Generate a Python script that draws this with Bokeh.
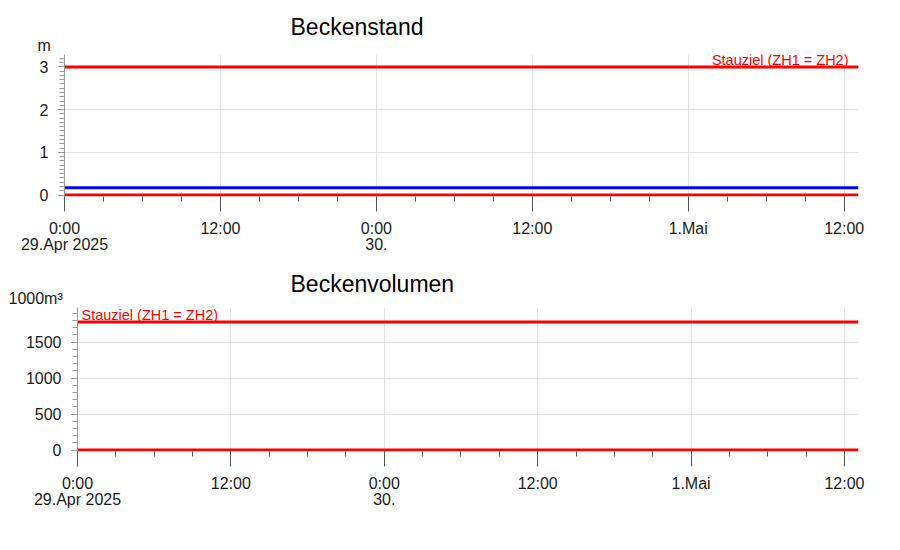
from datetime import datetime, timedelta
from bokeh.plotting import figure
from bokeh.layouts import column, row
from bokeh.models import Range1d, FixedTicker, Label, Title
from bokeh.embed import file_html
from bokeh.resources import INLINE

FONT = "Liberation Sans"
EPOCH = datetime(1970, 1, 1)

# ---- shared time axis ----
t_start = datetime(2025, 4, 29, 0, 0)
t_end = datetime(2025, 5, 1, 13, 6)
x_tick_times = [datetime(2025, 4, 29, 0), datetime(2025, 4, 29, 12),
                datetime(2025, 4, 30, 0), datetime(2025, 4, 30, 12),
                datetime(2025, 5, 1, 0), datetime(2025, 5, 1, 12)]
x_tick_labels = ["0:00\n29.Apr 2025", "12:00", "0:00\n30.", "12:00", "1.Mai", "12:00"]
x_minor_step_h = 3

# ---- Beckenstand (m) ----
stand_times = [t_start, t_end]
stand_values = [0.17, 0.17]
stand_stauziel = [3.0, 3.0]
stand_sohle = [0.0, 0.0]
stand_yticks = [0, 1, 2, 3]
stand_yrange = (-0.035, 3.29)
stand_minor_step = 0.1

# ---- Beckenvolumen (1000 m³) ----
vol_times = [t_start, t_end]
vol_values = [0, 0]
vol_stauziel = [1780, 1780]
vol_yticks = [0, 500, 1000, 1500]
vol_yrange = (-20, 1980)
vol_minor_step = 100

stau_label = "Stauziel (ZH1 = ZH2)"


def ms(dt):
    return int((dt - EPOCH).total_seconds() * 1000)


def minor_list(lo, hi, step):
    out = []
    v = lo
    while v <= hi + 1e-9:
        out.append(round(v, 6))
        v += step
    return out


major_ms = [ms(t) for t in x_tick_times]
minor_ms = []
t = t_start
while t <= t_end:
    minor_ms.append(ms(t))
    t += timedelta(hours=x_minor_step_h)


def make_fig(title, title_offset, title_standoff, unit, unit_offset, unit_standoff,
             yrange, yticks, ystep, height, b_left, b_top, b_bottom):
    p = figure(width=884, height=height, x_axis_type="datetime",
               output_backend="svg", toolbar_location=None,
               x_range=Range1d(t_start, t_end), y_range=Range1d(*yrange),
               min_border_left=b_left, min_border_right=26,
               min_border_top=b_top, min_border_bottom=b_bottom)
    p.outline_line_color = None

    # unit label (closest to the frame)
    p.add_layout(Title(text=unit, align="left", offset=unit_offset,
                       text_font=FONT, text_font_size="16px",
                       text_font_style="normal", text_color="#1a1a1a",
                       standoff=unit_standoff), "above")

    p.title.text = title
    p.title.align = "left"
    p.title.offset = title_offset
    p.title.text_font = FONT
    p.title.text_font_size = "23px"
    p.title.text_font_style = "normal"
    p.title.text_color = "black"
    p.title.standoff = title_standoff

    # x axis
    xa = p.xaxis[0]
    xa.ticker = FixedTicker(ticks=major_ms, minor_ticks=minor_ms)
    xa.major_label_overrides = {m: lab for m, lab in zip(major_ms, x_tick_labels)}
    xa.axis_line_color = None
    xa.major_tick_line_color = "#555555"
    xa.minor_tick_line_color = "#555555"
    xa.major_tick_out = 15
    xa.major_tick_in = 0
    xa.minor_tick_out = 5
    xa.minor_tick_in = 0
    xa.major_label_standoff = 8
    xa.major_label_text_font = FONT
    xa.major_label_text_font_size = "16px"
    xa.major_label_text_line_height = 0.95
    xa.major_label_text_color = "#1a1a1a"

    # y axis
    ya = p.yaxis[0]
    ya.ticker = FixedTicker(ticks=yticks, minor_ticks=minor_list(0, yrange[1], ystep))
    ya.axis_line_color = "#999999"
    ya.major_tick_line_color = "#555555"
    ya.minor_tick_line_color = "#9a9a9a"
    ya.major_tick_out = 6
    ya.major_tick_in = 0
    ya.minor_tick_out = 5
    ya.minor_tick_in = 0
    ya.major_label_standoff = 10
    ya.major_label_text_font = FONT
    ya.major_label_text_font_size = "16px"
    ya.major_label_text_color = "#1a1a1a"

    p.xgrid.ticker = FixedTicker(ticks=major_ms)
    p.ygrid.ticker = FixedTicker(ticks=yticks)
    p.xgrid.grid_line_color = "#e6e6e6"
    p.ygrid.grid_line_color = "#e6e6e6"
    return p


# ---- top: Beckenstand ----
p1 = make_fig("Beckenstand", 226, -12.5, "m", -27, 2, stand_yrange, stand_yticks,
              stand_minor_step, 268, 64, 54, 72)
p1.line(stand_times, stand_sohle, line_color="#ff0000", line_width=3)
p1.line(stand_times, stand_stauziel, line_color="#ff0000", line_width=3)
p1.line(stand_times, stand_values, line_color="#0000ff", line_width=3)
p1.add_layout(Label(x=t_end, y=stand_stauziel[0], x_offset=-10, y_offset=7,
                    text=stau_label, text_align="right", text_baseline="alphabetic",
                    text_font=FONT, text_font_size="14.5px", text_color="#ff0000"))

# ---- bottom: Beckenvolumen ----
p2 = make_fig("Beckenvolumen", 213, -18.8, "1000m³", -69, 1.2, vol_yrange, vol_yticks,
              vol_minor_step, 268, 77, 39, 85)
p2.line(vol_times, vol_values, line_color="#ff0000", line_width=3)
p2.line(vol_times, vol_stauziel, line_color="#ff0000", line_width=3)
p2.add_layout(Label(x=t_start, y=vol_stauziel[0], x_offset=4, y_offset=7,
                    text=stau_label, text_align="left", text_baseline="alphabetic",
                    text_font=FONT, text_font_size="14.5px", text_color="#ff0000"))

layout = column(row(p1), row(p2), spacing=0)
open("out.html", "w").write(file_html(layout, INLINE))
